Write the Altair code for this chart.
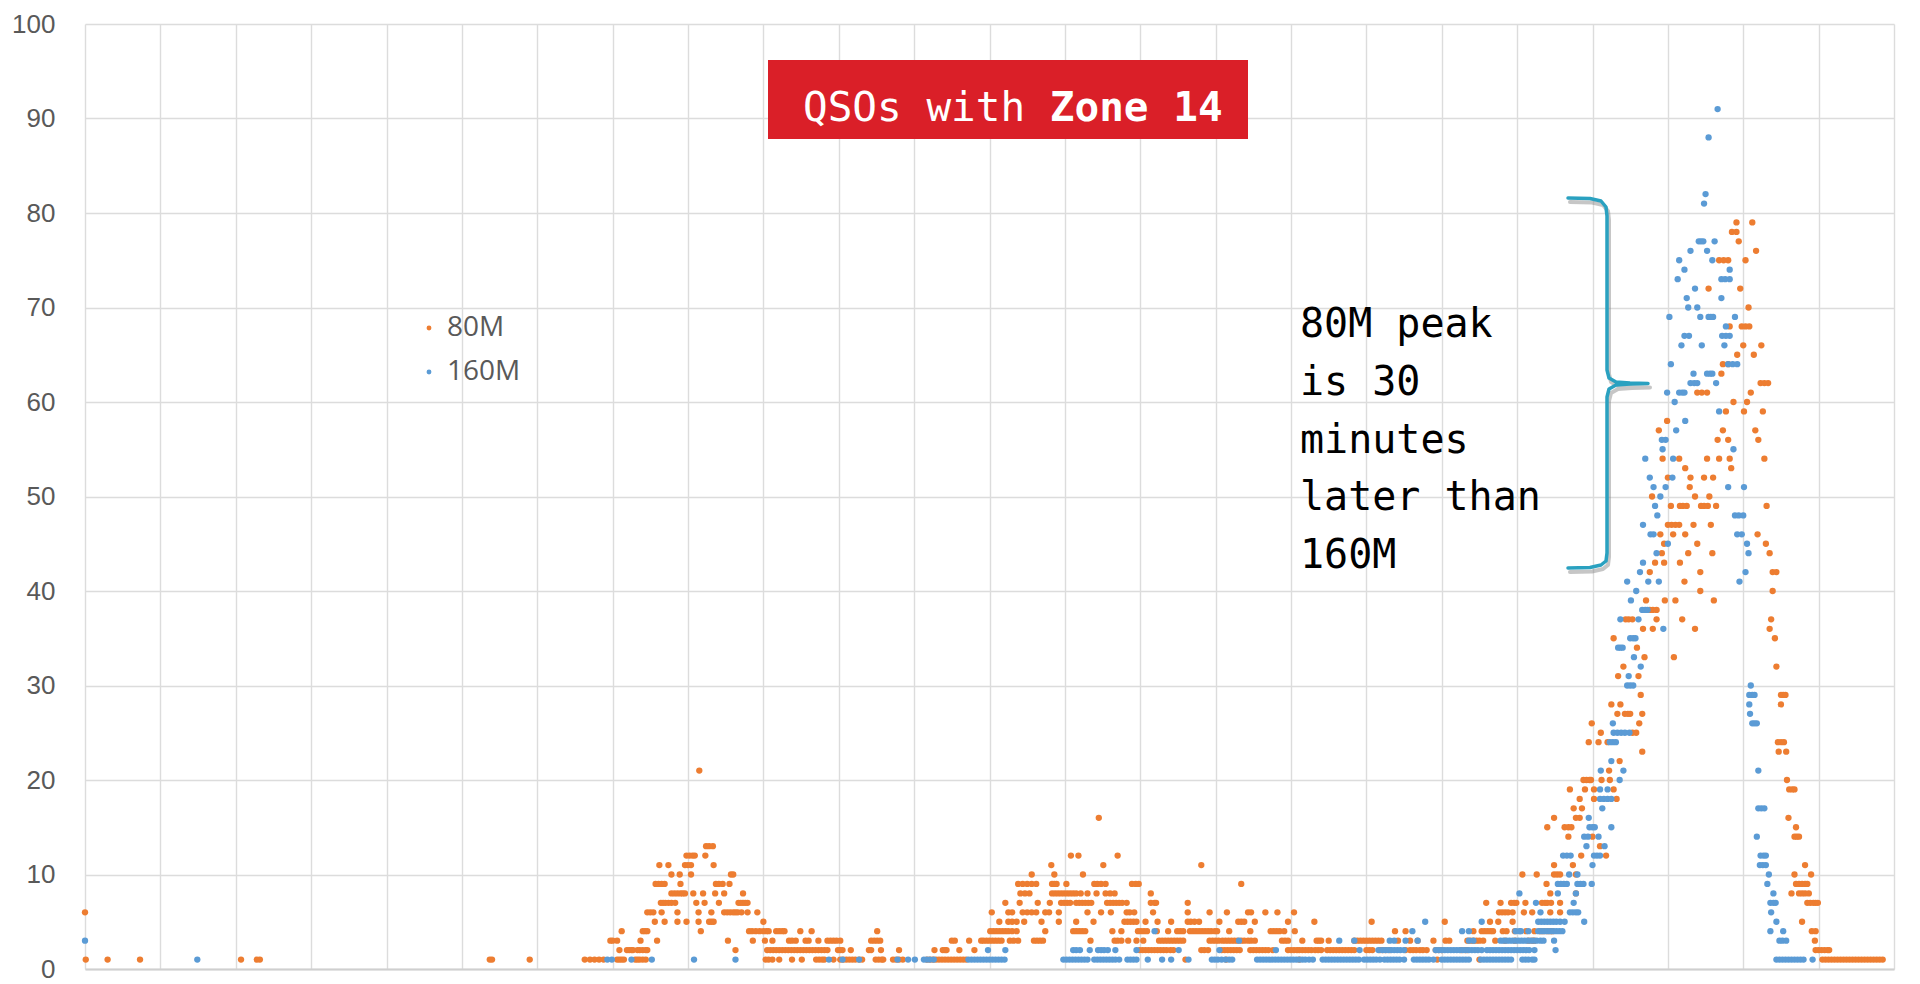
import altair as alt
import pandas as pd

# ---------------- data (x = hour slot 0..24, y = QSO count) ----------------
SERIES = ["80M", "160M"]
COLORS = ["#ED7D31", "#5B9BD5"]

M80_EARLY = [
    (6, [0.0]),
    (1, [0.01, 0.30, 0.73, 2.07, 2.28, 2.32, 5.37, 5.40, 5.90, 6.63, 6.70, 6.76]),
]
M80_HUMP1 = [
    (1, [6.82, 6.88, 7.06, 7.09, 7.12, 7.15, 7.30, 7.33, 7.36, 7.40, 7.44]),
    (2, [7.09, 7.19, 7.22, 7.25, 7.27, 7.33, 7.36, 7.40, 7.44, 7.46]),
    (3, [6.97, 7.00, 7.06, 7.37, 7.59]),
    (4, [7.12, 7.40, 7.43, 7.46, 8.17]),
    (5, [7.56, 7.69, 7.86, 7.98, 8.14, 8.28, 8.31, 8.34]),
    (6, [7.46, 7.50, 7.54, 7.65, 7.86, 8.14, 8.31]),
    (7, [7.64, 7.67, 7.70, 7.74, 7.78, 7.83, 8.11, 8.22, 8.41]),
    (8, [7.78, 7.82, 7.86, 7.90, 7.93, 7.96, 8.07, 8.20, 8.36, 8.48]),
    (9, [7.57, 7.61, 7.65, 7.69, 7.90, 8.37, 8.41, 8.46, 8.55]),
    (10, [7.78, 7.89, 8.04, 8.57, 8.60]),
    (11, [7.62, 7.74, 7.96, 8.00, 8.04, 8.34]),
    (12, [7.98, 8.02, 8.06, 8.09, 8.23]),
    (13, [8.24, 8.28, 8.33]),
    (21, [8.15]),
]
M80_MID = [
    (6, [8.48, 8.52, 8.56, 8.60, 8.63, 8.66, 8.71, 8.79, 8.92]),
    (7, [8.67, 8.70, 8.73, 8.76, 8.79]),
    (8, [8.73]),
    (3, [8.53, 8.86, 9.02, 9.12, 9.34, 9.38, 9.43, 9.56, 9.60, 9.73, 9.85, 9.89, 9.93, 9.97,
         10.02, 10.43, 10.47, 10.51, 10.55, 11.50, 11.54, 11.73, 11.89]),
    (4, [8.81, 8.85, 8.90, 8.95, 9.00, 9.04, 9.07, 9.17, 9.21, 9.25, 9.28, 9.49, 9.64, 10.51]),
    (5, [9.00]),
    (2, [8.63, 9.05, 9.09, 9.13, 9.17, 9.21, 9.25, 9.29, 9.33, 9.37, 9.41, 9.45, 9.49, 9.53,
         9.57, 9.61, 9.65, 9.69, 9.73, 9.77, 9.81, 9.85, 9.99, 10.02, 10.05, 10.16, 10.40,
         10.43, 10.56, 10.80, 11.27, 11.38, 11.41, 11.43, 11.60, 11.80]),
    (1, [9.03, 9.07, 9.12, 9.21, 9.38, 9.51, 9.70, 9.74, 9.78, 9.81, 9.93, 10.02, 10.06, 10.10,
         10.14, 10.18, 10.22, 10.27, 10.31, 10.49, 10.53, 10.57, 10.59, 10.72, 10.76, 10.80,
         10.85, 11.17, 11.21, 11.25, 11.29, 11.33, 11.37, 11.41, 11.45, 11.49, 11.53, 11.57,
         11.61, 11.65, 11.69]),
]
M80_HUMP2 = [
    (3, [11.92, 11.96, 12.00, 12.04, 12.08, 12.12, 12.16, 12.27, 12.32, 12.38, 12.59, 12.63,
         12.67, 12.71, 13.34, 13.66, 13.70, 13.75, 13.84, 13.95]),
    (4, [12.01, 12.05, 12.09, 12.13, 12.17, 12.21, 12.25, 12.30, 12.36, 12.74, 13.11, 13.15,
         13.19, 13.23, 13.27, 13.63, 13.75]),
    (5, [12.13, 12.25, 12.30, 12.36, 12.46, 12.69, 12.92, 13.15, 13.38, 13.79, 13.83, 13.87,
         13.91, 13.95]),
    (6, [12.03, 12.25, 12.30, 12.44, 12.50, 12.56, 12.62, 12.74, 12.79, 12.92, 13.30, 13.48,
         13.61, 13.82, 13.86, 13.92]),
    (7, [12.21, 12.40, 12.64, 12.80, 12.95, 12.99, 13.03, 13.07, 13.15, 13.19, 13.23, 13.27,
         13.31, 13.35, 13.56, 13.60, 13.64, 13.68, 13.72, 13.76, 13.82]),
    (8, [12.41, 12.47, 12.53, 12.83, 12.87, 12.91, 12.95, 12.99, 13.03, 13.07, 13.11, 13.15,
         13.21, 13.30, 13.42, 13.54, 13.60, 13.66]),
    (9, [12.38, 12.44, 12.50, 12.56, 12.62, 12.83, 12.86, 12.89, 13.02, 13.39, 13.43, 13.48,
         13.54, 13.89, 13.94, 13.98]),
    (10, [12.56, 12.86, 13.24]),
    (11, [12.82, 13.51]),
    (12, [13.08, 13.18, 13.70]),
    (16, [13.45]),
]
M80_FLAT = [
    (1, [14.60, 15.14]),
    (2, [13.99, 14.03, 14.07, 14.11, 14.15, 14.19, 14.23, 14.27, 14.31, 14.35, 14.40, 14.44,
         14.81, 14.85, 14.90, 15.08, 15.12, 15.16, 15.20, 15.24, 15.28, 15.32, 15.46, 15.50,
         15.54, 15.58, 15.62, 15.66, 15.70, 15.76, 15.96, 16.00, 16.04, 16.08]),
    (3, [14.04, 14.25, 14.29, 14.33, 14.37, 14.41, 14.45, 14.49, 14.53, 14.57, 14.92, 14.96,
         15.00, 15.04, 15.09, 15.13, 15.17, 15.21, 15.25, 15.29, 15.34, 15.38, 15.43, 15.47,
         15.52, 15.88, 15.92, 15.96]),
    (4, [13.97, 14.01, 14.05, 14.09, 14.22, 14.37, 14.49, 14.53, 14.57, 14.66, 14.70, 14.74,
         14.78, 14.82, 14.86, 14.90, 14.94, 14.99, 15.02, 15.18, 15.46, 15.73, 15.77, 15.81,
         15.85, 15.91, 16.05]),
    (5, [14.07, 14.23, 14.41, 14.63, 14.67, 14.72, 14.78, 15.05, 15.30, 15.34, 15.38, 15.52,
         15.96]),
    (6, [14.17, 14.63, 14.92, 15.15, 15.43, 15.47, 15.66, 15.82, 16.04]),
    (7, [14.14, 14.19, 14.21, 14.63]),
    (8, [14.14]),
    (9, [15.34]),
    (11, [14.81]),
]
M80_RISE = [
    (1, [16.11, 17.94, 18.50]),
    (2, [16.11, 16.15, 16.19, 16.23, 16.27, 16.32, 16.36, 16.40, 16.48, 16.52, 16.56, 16.60,
         16.64, 16.68, 16.72, 16.76, 16.80, 16.84, 17.00, 17.04, 17.08, 17.18, 17.22, 17.26,
         17.31, 17.52, 17.58, 17.62, 17.66, 17.71, 17.75, 17.80, 17.92, 17.96, 18.00, 18.26,
         18.31, 18.34]),
    (3, [16.15, 16.34, 16.37, 16.40, 16.50, 16.84, 16.88, 16.92, 16.96, 17.00, 17.04, 17.08,
         17.12, 17.16, 17.20, 17.42, 17.58, 17.68, 17.89, 18.05, 18.10, 18.34, 18.38, 18.42,
         18.46, 18.50, 18.55, 18.71, 18.84, 18.97, 19.15, 19.20, 19.23]),
    (4, [17.38, 17.52, 18.42, 18.53, 18.57, 18.61, 18.65, 18.68, 18.81, 18.86, 18.97, 19.12,
         19.23, 19.31, 19.35, 19.40, 19.44, 19.47]),
    (5, [16.31, 17.07, 18.04, 18.64, 18.75, 18.94]),
    (6, [18.76, 18.80, 18.84, 18.88, 18.94, 19.09, 19.20, 19.44, 19.57]),
    (7, [18.59, 18.78, 18.92, 18.96, 18.99, 19.11, 19.33, 19.37, 19.40, 19.45, 19.57]),
    (8, [19.44, 19.78]),
    (9, [19.39]),
    (10, [19.07, 19.26, 19.49, 19.53, 19.57, 19.78]),
    (11, [19.49, 19.74]),
    (12, [19.85, 20.18]),
    (13, [20.10]),
    (14, [19.68, 20.00]),
    (15, [19.40, 19.63, 19.68, 19.72]),
    (16, [19.49, 19.78, 19.83]),
    (17, [19.75, 19.86]),
    (18, [19.83, 20.02, 20.32]),
    (19, [19.70, 19.90, 20.02, 20.28]),
    (20, [19.88, 19.92, 19.96, 19.98, 20.12, 20.23]),
    (21, [20.22]),
    (22, [20.36]),
    (23, [20.66]),
    (24, [19.95, 20.08, 20.20]),
    (25, [20.11, 20.53, 20.58]),
    (26, [19.99, 20.62]),
    (27, [20.33, 20.43, 20.47, 20.50, 20.66]),
    (28, [20.25, 20.37]),
]
M80_PEAK = [
    (29, [20.64, 22.50, 22.53, 22.56]),
    (31, [20.34, 20.61]),
    (32, [20.41, 22.44]),
    (33, [20.69, 21.08]),
    (34, [20.59]),
    (35, [20.28, 22.42]),
    (36, [20.67, 20.80, 21.36, 22.35]),
    (37, [20.44, 20.48, 20.53, 20.85, 21.19, 22.37]),
    (38, [20.76, 20.80, 20.85]),
    (39, [20.71, 20.96, 21.10, 21.61]),
    (40, [21.43, 22.39]),
    (41, [21.22]),
    (42, [20.76, 21.43, 22.39, 22.44]),
    (43, [20.83, 20.95, 21.16]),
    (44, [20.92, 21.27, 21.59, 22.35]),
    (45, [20.95, 21.39, 22.30]),
    (46, [20.90, 21.07, 21.23, 22.19]),
    (47, [21.00, 21.05, 21.10, 21.15, 21.34, 21.57]),
    (49, [21.04, 21.16, 21.20, 21.25, 21.44, 21.48, 21.53, 21.64, 22.31]),
    (50, [20.79, 21.36, 21.55]),
    (51, [21.29]),
    (52, [21.00, 21.30, 21.48, 21.60]),
    (53, [21.23, 21.84]),
    (54, [20.93, 21.15, 21.52, 21.68, 21.82, 22.28]),
    (56, [21.66, 21.80, 22.20]),
    (57, [20.88, 21.73, 22.16]),
    (58, [20.99]),
    (59, [21.77, 22.01, 22.26]),
    (60, [21.87, 22.05]),
    (61, [21.39, 21.45, 21.52, 22.10]),
    (62, [22.23, 22.28, 22.33]),
    (63, [21.71]),
    (64, [21.73, 21.80]),
    (65, [21.92, 22.14]),
    (66, [22.00, 22.24]),
    (68, [21.82, 21.98, 22.03, 22.08]),
    (70, [22.07]),
    (72, [21.54, 21.96]),
    (75, [21.68, 21.74, 21.80, 22.03]),
    (76, [22.17]),
    (77, [21.94]),
    (78, [21.85, 21.91]),
    (79, [21.91, 22.12]),
]
M80_TAIL = [
    (28, [22.50]),
    (24, [22.46, 22.50, 22.54]),
    (23, [22.47, 22.57]),
    (20, [22.58]),
    (19, [22.61, 22.65, 22.68]),
    (16, [22.60]),
    (15, [22.70]),
    (14, [22.68, 22.71, 22.74]),
    (11, [22.82]),
    (10, [22.68, 22.90]),
    (9, [22.70, 22.74, 22.78, 22.82, 22.85]),
    (8, [22.64, 22.74, 22.78, 22.82, 22.87]),
    (7, [22.85, 22.89, 22.93, 22.96, 22.99]),
    (5, [22.78]),
    (4, [22.91, 22.96]),
    (3, [22.95]),
    (2, [22.96, 23.00, 23.04, 23.08, 23.12, 23.14]),
    (1, [23.05, 23.09, 23.13, 23.17, 23.21, 23.25, 23.29, 23.33, 23.37, 23.41, 23.45, 23.49,
         23.53, 23.57, 23.61, 23.65, 23.69, 23.73, 23.77, 23.81, 23.85]),
]

M160_LOW = [
    (3, [0.0, 15.31, 16.64, 16.84, 17.31, 17.37, 17.52, 17.68, 18.36, 18.42, 18.78, 18.82,
         18.86, 18.90, 18.94, 18.98, 19.02, 19.06, 19.10, 19.14, 19.18, 19.22, 19.26, 19.31,
         19.35, 19.49]),
    (1, [1.49, 6.93, 6.99, 7.25, 7.52, 8.08, 8.63, 9.87, 10.05, 10.27, 10.78, 10.92, 11.01,
         11.13, 11.17, 11.21, 11.26, 11.72, 11.76, 11.80, 11.84, 11.88, 11.92, 11.96, 12.00,
         12.04, 12.08, 12.12, 12.16, 12.20, 12.98, 13.02, 13.06, 13.10, 13.14, 13.18, 13.22,
         13.26, 13.30, 13.39, 13.43, 13.47, 13.51, 13.55, 13.59, 13.63, 13.67, 13.72, 13.83,
         13.87, 13.91, 13.95, 14.10, 14.29, 14.41, 14.64, 14.95, 14.99, 15.03, 15.08, 15.13,
         15.18, 15.22, 15.55, 15.59, 15.63, 15.67, 15.71, 15.75, 15.79, 15.83, 15.87, 15.91,
         15.95, 15.99, 16.03, 16.07, 16.11, 16.15, 16.19, 16.24, 16.29, 16.42, 16.46, 16.50,
         16.54, 16.58, 16.62, 16.66, 16.70, 16.74, 16.78, 16.82, 16.86, 16.90, 16.97, 17.01,
         17.05, 17.09, 17.13, 17.18, 17.24, 17.28, 17.32, 17.36, 17.40, 17.44, 17.50, 17.63,
         17.67, 17.71, 17.75, 17.79, 17.83, 17.89, 18.00, 18.04, 18.08, 18.12, 18.16, 18.20,
         18.24, 18.28, 18.32, 18.36, 18.52, 18.56, 18.60, 18.64, 18.68, 18.72, 18.76, 18.80,
         18.84, 18.88, 18.92, 19.07, 19.11, 19.15, 19.20, 19.23]),
    (2, [11.98, 12.21, 13.11, 13.15, 13.20, 13.33, 13.44, 13.48, 13.52, 13.57, 13.67, 13.95,
         14.51, 15.05, 15.80, 16.91, 17.16, 17.21, 17.25, 17.29, 17.33, 17.37, 17.41, 17.45,
         17.50, 17.92, 17.96, 18.00, 18.04, 18.08, 18.12, 18.16, 18.20, 18.24, 18.28, 18.32,
         18.36, 18.40, 18.44, 18.48, 18.53, 18.60, 18.64, 18.68, 18.72, 18.76, 18.80, 18.84,
         18.88, 18.92, 18.96, 19.00, 19.04, 19.08, 19.12, 19.16, 19.23, 19.51]),
    (4, [14.19, 17.61, 18.27, 18.36, 18.98, 19.03, 19.05, 19.15, 19.28, 19.32, 19.36, 19.40,
         19.44, 19.48, 19.52, 19.56, 19.60]),
]
M160_RISE = [
    (5, [17.78, 18.53, 19.28, 19.32, 19.36, 19.40, 19.44, 19.48, 19.52, 19.57, 19.63, 19.89]),
    (6, [19.31, 19.70, 19.74, 19.78, 19.81]),
    (7, [19.25, 19.75]),
    (8, [19.03, 19.54, 19.78]),
    (9, [19.54, 19.58, 19.62, 19.66, 19.80, 19.84, 19.88, 19.99]),
    (10, [19.69, 19.80]),
    (11, [20.00]),
    (12, [19.61, 19.66, 19.71, 20.02, 20.06, 20.10]),
    (13, [19.92, 20.16]),
    (14, [19.89, 19.94, 20.08]),
    (15, [19.96, 20.00, 20.03, 20.25]),
    (16, [19.95]),
    (17, [20.13]),
    (18, [20.10, 20.15, 20.20, 20.25]),
    (19, [20.10, 20.20]),
    (20, [20.36]),
    (21, [20.11, 20.41]),
    (22, [20.25]),
    (24, [20.23, 20.27, 20.31]),
    (25, [20.28, 20.33, 20.38, 20.43, 20.49]),
    (26, [20.27]),
    (30, [20.46, 20.50, 20.54]),
    (31, [20.48]),
    (32, [20.64]),
    (33, [20.55]),
    (34, [20.34, 20.37, 20.40]),
    (35, [20.50, 20.54, 20.57]),
    (36, [20.94]),
    (37, [20.37, 20.61]),
    (38, [20.66, 20.70, 20.73]),
    (39, [20.51]),
    (40, [20.58]),
]
M160_PEAK = [
    (41, [20.46, 20.74, 20.88, 21.95]),
    (42, [20.63, 22.03]),
    (43, [20.67]),
    (44, [20.85, 22.07]),
    (45, [21.00, 22.05]),
    (46, [20.77, 20.81, 21.92, 21.98]),
    (47, [20.67]),
    (48, [20.86, 21.89, 21.94, 22.00]),
    (49, [20.83]),
    (50, [20.90]),
    (51, [20.81, 20.97, 21.80, 22.01]),
    (52, [20.76, 21.06]),
    (54, [20.70, 21.07]),
    (55, [20.93, 21.87]),
    (56, [20.92, 20.97]),
    (57, [21.11]),
    (58, [21.23]),
    (59, [21.68]),
    (60, [21.09]),
    (61, [20.99, 21.15, 21.19, 21.22]),
    (62, [21.30, 21.35, 21.39, 21.64]),
    (63, [21.34, 21.52, 21.56, 21.59]),
    (64, [21.04, 21.80, 21.86, 21.92]),
    (66, [21.18, 21.45, 21.75]),
    (67, [21.22, 21.28, 21.72, 21.77, 21.82]),
    (68, [21.77]),
    (69, [21.02, 21.43, 21.54, 21.57, 21.60, 21.89]),
    (70, [21.27, 21.39]),
    (71, [21.25, 21.71]),
    (72, [21.36]),
    (73, [21.13, 21.71, 21.76, 21.82]),
    (74, [21.22, 21.82]),
    (75, [21.15, 21.59]),
    (76, [21.30, 21.52]),
    (77, [21.41, 21.44, 21.47, 21.62]),
    (81, [21.48]),
    (82, [21.50]),
    (88, [21.54]),
    (91, [21.66]),
]
M160_TAIL = [
    (30, [22.10]),
    (29, [22.08, 22.12, 22.15]),
    (28, [22.08]),
    (27, [22.09]),
    (26, [22.12, 22.15, 22.18]),
    (21, [22.20]),
    (17, [22.20, 22.24, 22.28]),
    (14, [22.18]),
    (12, [22.23, 22.27, 22.30]),
    (11, [22.22, 22.26, 22.30]),
    (10, [22.34]),
    (9, [22.32]),
    (8, [22.40]),
    (7, [22.36, 22.40, 22.43]),
    (6, [22.37]),
    (5, [22.44]),
    (4, [22.36, 22.53]),
    (3, [22.48, 22.52, 22.57]),
    (1, [22.44, 22.48, 22.52, 22.56, 22.60, 22.64, 22.68, 22.72, 22.76, 22.80, 22.92]),
]

Y_TICKS = list(range(0, 101, 10))
X_GRID = list(range(0, 25))

TITLE_PARTS = ["QSOs with", "Zone 14"]
NOTE_LINES = ["80M peak", "is 30", "minutes", "later than", "160M"]

# ---------------- layout ----------------
W, H = 1809, 945
PAD_L, PAD_T = 77, 16
X_MAX, Y_MAX = 24, 100


def hx(px):  # page pixel -> x data
    return (px - 8 - PAD_L) * X_MAX / W


def vy(py):  # page pixel -> y data
    return (8 + PAD_T + H - py) * Y_MAX / H


def rows(segs, name):
    return [{"x": x, "y": y, "series": name} for seg in segs for y, xs in seg for x in xs]


pts = pd.DataFrame(
    rows([M80_EARLY, M80_HUMP1, M80_MID, M80_HUMP2, M80_FLAT, M80_RISE, M80_PEAK, M80_TAIL], "80M")
    + rows([M160_LOW, M160_RISE, M160_PEAK, M160_TAIL], "160M")
)

points = alt.Chart(pts).mark_circle(size=40, opacity=1).encode(
    x=alt.X("x:Q", scale=alt.Scale(domain=[0, X_MAX], nice=False, zero=False),
            axis=alt.Axis(values=X_GRID, labels=False, ticks=False, title=None, grid=True,
                          domain=True, domainColor="#cfcfcf", domainWidth=2)),
    y=alt.Y("y:Q", scale=alt.Scale(domain=[0, Y_MAX], nice=False),
            axis=alt.Axis(values=Y_TICKS, title=None, ticks=False, domain=False,
                          labelPadding=30, labelFont="Liberation Sans", labelFontSize=26,
                          labelColor="#595959")),
    color=alt.Color("series:N", scale=alt.Scale(domain=SERIES, range=COLORS),
                    legend=alt.Legend(orient="none", legendX=330, legendY=290, title=None,
                                      symbolType="circle", symbolSize=24, symbolStrokeWidth=0,
                                      labelFont="Open Sans", labelFontSize=28,
                                      labelColor="#595959", labelOffset=4, rowPadding=16,
                                      padding=0)),
)

# title box
box = pd.DataFrame([{"x": hx(768), "x2": hx(1248), "y": vy(60), "y2": vy(139)}])
title_box = alt.Chart(box).mark_rect(color="#DA1F28").encode(
    x="x:Q", x2="x2:Q", y="y:Q", y2="y2:Q")
t1 = alt.Chart(pd.DataFrame([{"x": hx(803), "y": vy(121), "t": TITLE_PARTS[0]}])).mark_text(
    align="left", baseline="alphabetic", font="DejaVu Sans Mono", fontSize=41,
    color="white").encode(x="x:Q", y="y:Q", text="t:N")
t2 = alt.Chart(pd.DataFrame([{"x": hx(803 + 10 * 0.602 * 41), "y": vy(121), "t": TITLE_PARTS[1]}])).mark_text(
    align="left", baseline="alphabetic", font="DejaVu Sans Mono", fontSize=41, fontWeight="bold",
    color="white").encode(x="x:Q", y="y:Q", text="t:N")

# annotation text
note = pd.DataFrame([{"x": hx(1300), "y": vy(337 + i * 57.8), "t": s} for i, s in enumerate(NOTE_LINES)])
note_text = alt.Chart(note).mark_text(
    align="left", baseline="alphabetic", font="DejaVu Sans Mono", fontSize=40,
    color="black").encode(x="x:Q", y="y:Q", text="t:N")

# brace
BRACE_PX = [(1568, 198), (1590, 198.5), (1601, 201), (1606, 207), (1607, 216), (1607, 370),
            (1609, 378), (1616, 382), (1630, 383), (1648, 383.5), (1630, 384), (1616, 385),
            (1609, 389), (1607, 397), (1607, 553), (1606, 561), (1601, 565), (1590, 567.5),
            (1568, 568)]
brace = pd.DataFrame([{"i": i, "x": hx(px), "y": vy(py)} for i, (px, py) in enumerate(BRACE_PX)])
shadow = pd.DataFrame([{"i": i, "x": hx(px + 2), "y": vy(py + 4)} for i, (px, py) in enumerate(BRACE_PX)])
brace_shadow = alt.Chart(shadow).mark_line(color="#808080", strokeWidth=4, opacity=0.45,
                                           strokeCap="round", strokeJoin="round").encode(
    x="x:Q", y="y:Q", order="i:Q")
brace_line = alt.Chart(brace).mark_line(color="#2AA1C0", strokeWidth=3.5,
                                        strokeCap="round", strokeJoin="round").encode(
    x="x:Q", y="y:Q", order="i:Q")

chart = alt.layer(points, title_box, t1, t2, note_text, brace_shadow, brace_line).properties(
    width=W, height=H,
    autosize=alt.AutoSizeParams(type="none"),
    padding={"left": PAD_L, "top": PAD_T, "right": 10, "bottom": 14},
).configure_view(stroke=None).configure_axis(
    gridColor="#dcdcdc", gridWidth=1.4
)

chart.save("out.html", embed_options={"renderer": "svg", "actions": False})
